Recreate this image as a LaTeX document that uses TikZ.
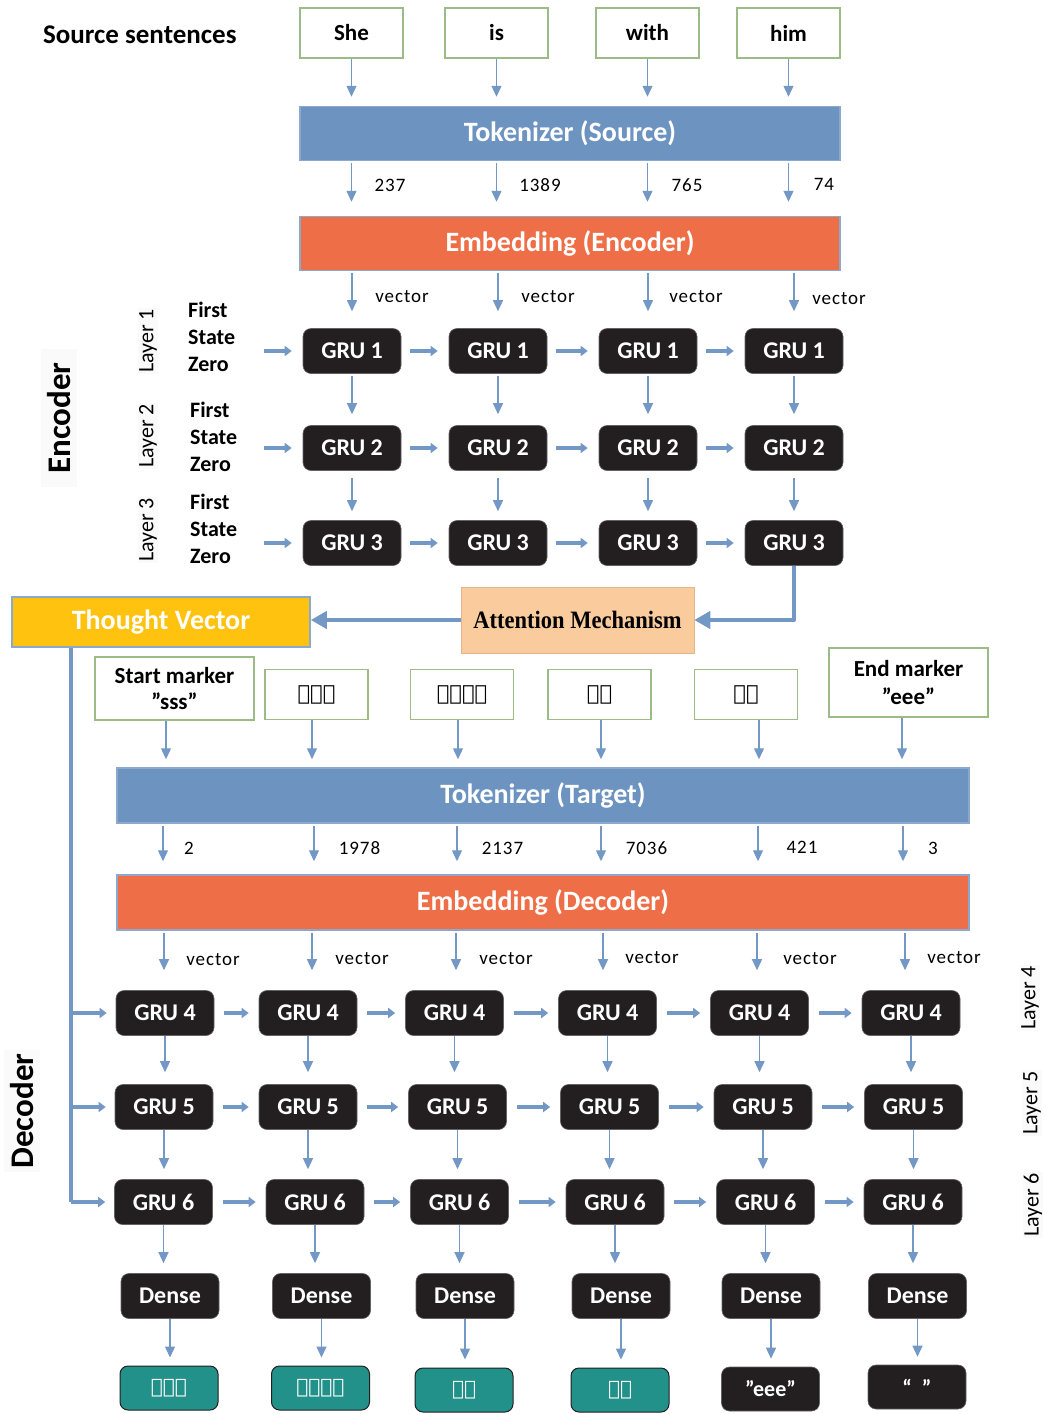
\documentclass[tikz,border=0pt]{standalone}
\usepackage{fontspec}
\setmainfont{Carlito}
\newfontfamily\serifb{Liberation Serif}
\newfontfamily\lbl{Carlito}[LetterSpace=5]
\IfFontExistsTF{FreeSerif.otf}{\newfontfamily\eth{FreeSerif.otf}[FakeBold=2]}{\newfontfamily\eth{DejaVu Sans}}
\usetikzlibrary{arrows.meta,calc}
\newcommand\fsz[2]{\fontsize{#1}{#2}\selectfont}
\definecolor{arrblue}{HTML}{7398C6}
\definecolor{tokblue}{HTML}{6D94C0}
\definecolor{embor}{HTML}{EE6F47}
\definecolor{edgeblue}{HTML}{8DA8CD}
\definecolor{gruk}{HTML}{231F20}
\definecolor{boxgreen}{HTML}{9CBB87}
\definecolor{amber}{HTML}{FFC20F}
\definecolor{peach}{HTML}{F9CB9D}
\definecolor{outteal}{HTML}{22918A}
\tikzset{
  wbox/.style={draw=boxgreen, line width=1.4pt, fill=white, minimum width=103pt, minimum height=50pt, inner sep=0pt, font=\bfseries\fsz{23}{26}, align=center},
  ebox/.style={wbox, font=\eth\fsz{21}{26}},
  tokbox/.style={fill=tokblue, draw=edgeblue, line width=1.5pt, minimum height=54pt, inner sep=0pt, text=white, font=\bfseries\fsz{28}{32}},
  embbox/.style={tokbox, fill=embor},
  gru/.style={fill=gruk, draw=gruk!70, line width=0.6pt, rounded corners=8pt, minimum width=98pt, minimum height=45pt, inner sep=0pt, text=white, font=\bfseries\fsz{24}{26}},
  outbox/.style={gru, fill=outteal, draw=gruk, line width=1pt, minimum height=44pt, font=\eth\fsz{20}{24}},
  outk/.style={gru, minimum height=44pt, font=\bfseries\fsz{22}{24}},
  tarr/.style={draw=arrblue, line width=1.3pt, -{Triangle[width=10pt,length=11pt]}},
  harr/.style={draw=arrblue, line width=4pt, -{Triangle[width=10pt,length=7pt]}},
  bigarr/.style={draw=arrblue, line width=4pt, -{Triangle[width=17pt,length=16pt]}},
  numlbl/.style={font=\lbl\fsz{19}{22}, inner sep=0pt},
  sidelbl/.style={font=\bfseries\fsz{22}{27}, align=left, anchor=west, inner sep=0pt},
  laylbl/.style={font=\fsz{22}{24}, rotate=90, inner sep=1pt, fill=black!2},
  biglbl/.style={font=\bfseries\fsz{33}{36}, rotate=90, inner sep=4pt, fill=black!2}
}
\begin{document}
\begin{tikzpicture}[x=1pt,y=-1pt]
\useasboundingbox (0,0) rectangle (1046,1414);

% ---------- Encoder side ----------
\node[anchor=west, inner sep=0pt, font=\bfseries\fsz{27}{30}] (srclbl) at (43,35) {Source sentences};

\node[wbox] (w1) at (351.5,33) {She};
\node[wbox] (w2) at (496.5,33) {is};
\node[wbox] (w3) at (647.5,33) {with};
\node[wbox] (w4) at (788.5,33) {him};

\node[tokbox, minimum width=540pt] (tokS) at (570,133.5) {Tokenizer (Source)};
\node[embbox, minimum width=540pt] (embE) at (570,243.5) {Embedding (Encoder)};

\foreach \i in {1,...,4}{
  \draw[tarr, shorten >=9pt] (w\i.south) -- (w\i.south |- tokS.north);
  \draw[tarr, shorten <=2pt, shorten >=14pt] (w\i.south |- tokS.south) -- (w\i.south |- embE.north);
}
\node[numlbl] (n1) at (390,185) {237};
\node[numlbl] (n2) at (540,185) {1389};
\node[numlbl] (n3) at (687,185) {765};
\node[numlbl] (n4) at (824,184) {74};

% encoder GRU grid
\foreach \r/\y in {1/351,2/448,3/543}{
  \foreach \c/\x in {1/352,2/498,3/648,4/794}{
    \node[gru] (e\r\c) at (\x,\y) {GRU \r};
  }
  \coordinate (s\r) at (264,\y);
  \draw[harr, shorten >=11pt] (s\r) -- (e\r1.west);
  \foreach \c/\d in {1/2,2/3,3/4}{
    \draw[harr, shorten <=9pt, shorten >=11pt] (e\r\c.east) -- (e\r\d.west);
  }
}
\foreach \c in {1,...,4}{
  \draw[tarr, shorten <=2pt, shorten >=17pt] (e1\c.north |- embE.south) -- (e1\c.north);
  \draw[tarr, shorten <=2pt, shorten >=11pt] (e1\c.south) -- (e2\c.north);
  \draw[tarr, shorten <=7pt, shorten >=9pt] (e2\c.south) -- (e3\c.north);
}
\node[numlbl] (v1) at (402,297) {vector};
\node[numlbl] (v2) at (548,297) {vector};
\node[numlbl] (v3) at (696,297) {vector};
\node[numlbl] (v4) at (839,299) {vector};

\node[laylbl] (L1) at (148,341) {Layer 1};
\node[laylbl] (L2) at (148,436) {Layer 2};
\node[laylbl] (L3) at (148,530) {Layer 3};
\node[sidelbl] (f1) at (188,337) {First\\State\\Zero};
\node[sidelbl] (f2) at (190,437) {First\\State\\Zero};
\node[sidelbl] (f3) at (190,529) {First\\State\\Zero};
\node[biglbl, minimum width=138pt, minimum height=36pt] (enc) at (59,418) {Encoder};

% ---------- attention / thought vector ----------
\node[fill=peach, draw=peach!90!black, line width=0.5pt, minimum width=233pt, minimum height=66pt, inner sep=0pt,
      font=\serifb\bfseries\fsz{25}{28}] (att) at (577.5,620) {\scalebox{0.9}[1]{Attention Mechanism}};
\node[fill=amber, draw=edgeblue, line width=1.5pt, minimum width=298pt, minimum height=50pt, inner sep=0pt,
      text=white, font=\bfseries\fsz{28}{30}] (tv) at (161,622) {Thought Vector};
\draw[bigarr, line join=round] (e34.south) |- (att.east);
\draw[bigarr] (att.west) -- (att.west -| tv.east);

% ---------- decoder side ----------
\node[wbox, minimum width=159pt, minimum height=63pt, font=\bfseries\fsz{23}{26}] (in1) at (174.5,688.5) {Start marker\\''sss''};
\node[ebox] (in2) at (316.5,694.5) {እርሷ};
\node[ebox] (in3) at (462,694.5) {ከእርሱ};
\node[ebox] (in4) at (599.5,694.5) {ጋር};
\node[ebox] (in5) at (746,694.5) {ነች};
\node[wbox, minimum width=159pt, minimum height=69pt, font=\bfseries\fsz{23}{28}] (in6) at (908.5,682.5) {End marker\\''eee''};

\node[tokbox, minimum width=852pt, minimum height=55pt] (tokT) at (543,795.5) {Tokenizer (Target)};
\node[embbox, minimum width=852pt, minimum height=55pt] (embD) at (543,902.5) {Embedding (Decoder)};

\foreach \c/\x in {1/166,2/312,3/458,4/601,5/759,6/902}{
  \coordinate (ka\c) at (\x,0);
  \draw[tarr, shorten >=8pt] (in\c.south -| ka\c) -- (tokT.north -| ka\c);
}
\foreach \c/\x in {1/163,2/314,3/457,4/601,5/758,6/903}{
  \coordinate (kb\c) at (\x,0);
  \draw[tarr, shorten <=2pt, shorten >=13pt] (tokT.south -| kb\c) -- (embD.north -| kb\c);
}
\node[numlbl] (m1) at (189,848) {2};
\node[numlbl] (m2) at (359.5,848) {1978};
\node[numlbl] (m3) at (502.5,848) {2137};
\node[numlbl] (m4) at (646.5,848) {7036};
\node[numlbl] (m5) at (802,847) {421};
\node[numlbl] (m6) at (933,848) {3};

% decoder grid
\foreach \c/\x in {1/165,2/308,3/454.5,4/607.5,5/759.5,6/911}{ \node[gru] (d4\c) at (\x,1013) {GRU 4}; }
\foreach \c/\x in {1/164,2/308,3/457.5,4/609.5,5/763,6/913.5}{ \node[gru] (d5\c) at (\x,1107) {GRU 5}; }
\foreach \c/\x in {1/163.5,2/315,3/459.5,4/615,5/765.5,6/913}{ \node[gru] (d6\c) at (\x,1202) {GRU 6}; }
\foreach \c/\x in {1/170,2/321.5,3/465,4/621,5/771,6/917.5}{ \node[gru, font=\bfseries\fsz{24}{26}] (dn\c) at (\x,1296) {Dense}; }
\node[outbox] (o1) at (169,1388) {እርሷ};
\node[outbox] (o2) at (320.5,1388) {ከእርሱ};
\node[outbox] (o3) at (464,1390) {ጋር};
\node[outbox] (o4) at (620,1390) {ነች};
\node[outk] (o5) at (770.5,1389) {''eee''};
\node[outk] (o6) at (917,1387) {“\ \ ”};

\foreach \c/\x in {1/164,2/312,3/456,4/603,5/757,6/905}{
  \coordinate (kc\c) at (\x,0);
  \draw[tarr, shorten <=2pt, shorten >=20pt] (embD.south -| kc\c) -- (d4\c.north -| kc\c);
}
\foreach \c in {1,...,6}{
  \draw[tarr, shorten >=12pt] (d4\c.south) -- (d4\c.south |- d5\c.north);
  \draw[tarr, shorten >=10pt] (d5\c.south) -- (d5\c.south |- d6\c.north);
  \draw[tarr, shorten >=10pt] (d6\c.south) -- (d6\c.south |- dn\c.north);
  \draw[tarr, shorten >=8pt] (dn\c.south) -- (dn\c.south |- o\c.north);
}
\foreach \r in {4,5,6}{
  \foreach \c/\d in {1/2,2/3,3/4,4/5,5/6}{
    \draw[harr, shorten <=10pt, shorten >=10pt] (d\r\c.east) -- (d\r\d.west |- d\r\c.east);
  }
}
\node[numlbl] (u1) at (213,960) {vector};
\node[numlbl] (u2) at (362,959) {vector};
\node[numlbl] (u3) at (506,959) {vector};
\node[numlbl] (u4) at (652,958) {vector};
\node[numlbl] (u5) at (810,959) {vector};
\node[numlbl] (u6) at (954,958) {vector};

% thought vector spine
\coordinate (sp) at (71,0);
\draw[draw=arrblue, line width=4pt] (tv.south -| sp) -- (sp |- d61.west);
\foreach \r in {4,5,6}{
  \draw[harr, shorten >=9pt] (sp |- d\r1.west) -- (d\r1.west);
}

\node[laylbl] (L4) at (1030,998) {Layer 4};
\node[laylbl] (L5) at (1032,1103) {Layer 5};
\node[laylbl] (L6) at (1033,1205) {Layer 6};
\node[biglbl, minimum width=120pt, minimum height=36pt] (dec) at (22,1111) {Decoder};
\end{tikzpicture}
\end{document}
